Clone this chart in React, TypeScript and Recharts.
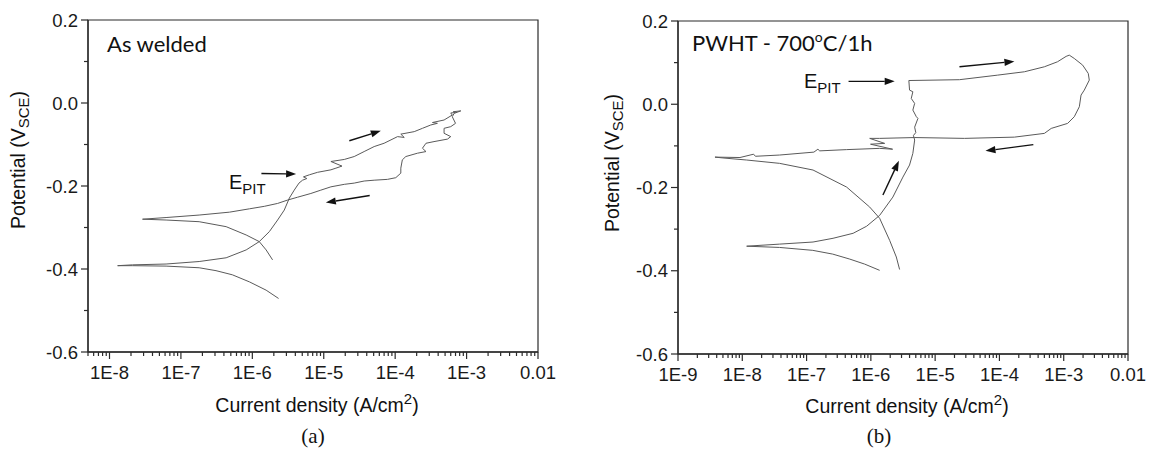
import React from 'react'
import { LineChart, Line, XAxis, YAxis, ReferenceLine, ReferenceArea } from 'recharts'

type Pt = [number, number] // [current density A/cm2, potential V]

// (a) As welded - forward scan (cathodic -> anodic)
const awForward: Pt[] = [
  [2.33e-6, -0.471], [1.56e-6, -0.451], [9.1e-7, -0.431], [5.25e-7, -0.414], [3.1e-7, -0.404],
  [1.8e-7, -0.397], [6.2e-8, -0.393], [2.1e-8, -0.392], [1.3e-8, -0.392], [2.1e-8, -0.39],
  [6.2e-8, -0.388], [1.8e-7, -0.382], [4.3e-7, -0.373], [8.2e-7, -0.354], [1.25e-6, -0.334],
  [1.73e-6, -0.31], [2.26e-6, -0.282], [2.8e-6, -0.258], [3.3e-6, -0.229], [3.86e-6, -0.21],
  [4.5e-6, -0.193], [5.05e-6, -0.186], [5.8e-6, -0.182], [5.2e-6, -0.178], [6.3e-6, -0.173],
  [8.2e-6, -0.167], [1.26e-5, -0.161], [1.48e-5, -0.157], [1.8e-5, -0.152], [1.26e-5, -0.141],
  [1.94e-5, -0.136], [2.67e-5, -0.129], [3.68e-5, -0.117], [5.08e-5, -0.105], [7.0e-5, -0.097],
  [1.08e-4, -0.081], [1.34e-4, -0.083], [1.2e-4, -0.075], [1.85e-4, -0.069], [2.41e-4, -0.061],
  [3.15e-4, -0.053], [3.9e-4, -0.049], [3.33e-4, -0.047], [4.84e-4, -0.041], [6.3e-4, -0.029],
  [6.0e-4, -0.024], [7.0e-4, -0.023], [6.5e-4, -0.021], [8.3e-4, -0.019],
]

// (a) As welded - reverse scan
const awReverse: Pt[] = [
  [8.3e-4, -0.019], [6.7e-4, -0.025], [6.3e-4, -0.033], [7.0e-4, -0.049], [6.0e-4, -0.057],
  [4.84e-4, -0.061], [4.84e-4, -0.073], [6.0e-4, -0.081], [5.4e-4, -0.087], [3.5e-4, -0.093],
  [2.7e-4, -0.097], [2.41e-4, -0.109], [2.7e-4, -0.117], [2.05e-4, -0.121], [1.41e-4, -0.129],
  [1.26e-4, -0.137], [1.2e-4, -0.157], [1.2e-4, -0.169], [1.02e-4, -0.18], [7.8e-5, -0.184],
  [5.08e-5, -0.186], [3.68e-5, -0.188], [2.67e-5, -0.193], [1.94e-5, -0.196], [1.26e-5, -0.202],
  [9.1e-6, -0.21], [6.6e-6, -0.218], [4.3e-6, -0.227], [3.1e-6, -0.234], [2.26e-6, -0.242],
  [1.47e-6, -0.249], [9.1e-7, -0.255], [4.8e-7, -0.263], [1.8e-7, -0.27], [6.2e-8, -0.276],
  [2.9e-8, -0.28], [6.2e-8, -0.282], [1.8e-7, -0.286], [4.3e-7, -0.298], [8.2e-7, -0.318],
  [1.25e-6, -0.334], [1.56e-6, -0.354], [1.92e-6, -0.378],
]

// (b) PWHT 700C/1h - forward scan
const pwForward: Pt[] = [
  [1.37e-6, -0.399], [8.0e-7, -0.384], [4.7e-7, -0.372], [2.55e-7, -0.36], [1.25e-7, -0.351],
  [3.8e-8, -0.344], [1.17e-8, -0.341], [3.8e-8, -0.336], [1.26e-7, -0.331], [2.58e-7, -0.322],
  [5.3e-7, -0.31], [8.6e-7, -0.293], [1.37e-6, -0.267], [2.2e-6, -0.223], [3.15e-6, -0.175],
  [4.0e-6, -0.146], [4.5e-6, -0.118], [4.8e-6, -0.086], [4.6e-6, -0.075], [5.0e-6, -0.068],
  [4.8e-6, -0.055], [5.4e-6, -0.034], [5.1e-6, -0.03], [4.5e-6, -0.014], [4.8e-6, 0.002],
  [4.25e-6, 0.014], [4.5e-6, 0.03], [4.0e-6, 0.034], [3.9e-6, 0.057], [2.39e-5, 0.059],
  [9.4e-5, 0.07], [2.44e-4, 0.078], [5.0e-4, 0.09], [8.0e-4, 0.102], [1.09e-3, 0.115],
  [1.22e-3, 0.118], [1.46e-3, 0.11], [1.97e-3, 0.094], [2.41e-3, 0.074], [2.5e-3, 0.058],
]

// (b) PWHT 700C/1h - reverse scan
const pwReverse: Pt[] = [
  [2.5e-3, 0.058], [2.09e-3, 0.034], [1.86e-3, 0.022], [1.75e-3, -0.006], [1.46e-3, -0.03],
  [1.15e-3, -0.046], [6.4e-4, -0.058], [5.0e-4, -0.07], [1.71e-4, -0.079], [2.86e-5, -0.082],
  [4.8e-6, -0.08], [1.37e-6, -0.082], [9.6e-7, -0.082], [1.64e-6, -0.094], [9.9e-7, -0.096],
  [2.18e-6, -0.108], [1.37e-6, -0.106], [4.2e-7, -0.109], [1.6e-7, -0.112], [1.5e-7, -0.108],
  [1.3e-7, -0.115], [3.8e-8, -0.122], [1.6e-8, -0.125], [1.5e-8, -0.12], [9.2e-9, -0.128],
  [3.76e-9, -0.127], [5e-9, -0.129], [1.17e-8, -0.134], [3.8e-8, -0.142], [1.26e-7, -0.158],
  [4.2e-7, -0.199], [9.6e-7, -0.247], [1.37e-6, -0.274], [1.96e-6, -0.327], [2.49e-6, -0.367],
  [2.8e-6, -0.397],
]

// axes
const awDecades = [1e-8, 1e-7, 1e-6, 1e-5, 1e-4, 1e-3, 1e-2]
const awDecadeLabels = ['1E-8', '1E-7', '1E-6', '1E-5', '1E-4', '1E-3', '0.01']
const pwDecades = [1e-9, 1e-8, 1e-7, 1e-6, 1e-5, 1e-4, 1e-3, 1e-2]
const pwDecadeLabels = ['1E-9', '1E-8', '1E-7', '1E-6', '1E-5', '1E-4', '1E-3', '0.01']
const yMajor = [-0.6, -0.4, -0.2, 0, 0.2]
const yMajorLabels = ['-0.6', '-0.4', '-0.2', '0.0', '0.2']
const yMinor = [-0.5, -0.3, -0.1, 0.1]

// annotation arrows: [from, to]
const awArrows: [Pt, Pt][] = [
  [[2.28e-5, -0.091], [6.3e-5, -0.067]],
  [[4.4e-5, -0.223], [1.07e-5, -0.24]],
  [[1.34e-6, -0.17], [4.1e-6, -0.171]],
]
const pwArrows: [Pt, Pt][] = [
  [[2.39e-5, 0.09], [1.71e-4, 0.103]],
  [[3.37e-4, -0.097], [6.07e-5, -0.112]],
  [[4.5e-7, 0.055], [2.35e-6, 0.055]],
  [[1.54e-6, -0.218], [2.73e-6, -0.136]],
]

const AXIS = '#2b2b2b'
const CURVE = '#5a5a5a'
const TICK_FONT = '"Liberation Sans", Arial, sans-serif'

const minorTicks = (decades: number[], lo: number) => {
  const out: number[] = []
  const bases = [decades[0] / 10, ...decades.slice(0, -1)]
  bases.forEach(d => {
    for (let m = 2; m <= 9; m++) {
      const v = m * d
      if (v >= lo * 0.999) out.push(v)
    }
  })
  return out
}

const ArrowShape = (p: any) => {
  const { x1, y1, x2, y2 } = p
  const ang = Math.atan2(y2 - y1, x2 - x1)
  const L = 10
  const W = 3.6
  const bx = x2 - L * Math.cos(ang)
  const by = y2 - L * Math.sin(ang)
  const px = -Math.sin(ang) * W
  const py = Math.cos(ang) * W
  return (
    <g>
      <line x1={x1} y1={y1} x2={bx} y2={by} stroke="#111" strokeWidth={1.4} />
      <polygon points={`${x2},${y2} ${bx + px},${by + py} ${bx - px},${by - py}`} fill="#111" />
    </g>
  )
}

interface PanelProps {
  left: number
  margin: { top: number; right: number; bottom: number; left: number }
  domain: [number, number]
  decades: number[]
  decadeLabels: string[]
  forward: Pt[]
  reverse: Pt[]
  arrows: [Pt, Pt][]
}

const Panel: React.FC<PanelProps> = ({ left, margin, domain, decades, decadeLabels, forward, reverse, arrows }) => {
  const xTicks = [...decades, ...minorTicks(decades, domain[0])].sort((a, b) => a - b)
  const yTicks = [...yMajor, ...yMinor].sort((a, b) => a - b)

  const renderXTick = (p: any) => {
    const v = p.payload.value
    const idx = decades.findIndex(d => Math.abs(d - v) / d < 1e-6)
    const major = idx >= 0
    return (
      <g>
        <line x1={p.x} x2={p.x} y1={p.y} y2={p.y + (major ? 7 : 4)} stroke={AXIS} strokeWidth={1.2} />
        {major && (
          <text x={p.x} y={p.y + 27} textAnchor="middle" fontSize={18.5} fontFamily={TICK_FONT} fill="#1a1a1a">
            {decadeLabels[idx]}
          </text>
        )}
      </g>
    )
  }

  const renderYTick = (p: any) => {
    const v = p.payload.value
    const idx = yMajor.findIndex(d => Math.abs(d - v) < 1e-6)
    const major = idx >= 0
    return (
      <g>
        <line x1={p.x - (major ? 7 : 4)} x2={p.x} y1={p.y} y2={p.y} stroke={AXIS} strokeWidth={1.2} />
        {major && (
          <text x={p.x - 10} y={p.y + 6.5} textAnchor="end" fontSize={18.5} fontFamily={TICK_FONT} fill="#1a1a1a">
            {yMajorLabels[idx]}
          </text>
        )}
      </g>
    )
  }

  return (
    <div style={{ position: 'absolute', left, top: 0 }}>
      <LineChart width={560} height={456} margin={margin}>
        <XAxis
          type="number"
          dataKey="i"
          scale="log"
          domain={domain}
          allowDataOverflow
          ticks={xTicks}
          interval={0}
          tickSize={0}
          tickMargin={0}
          tickLine={false}
          tick={renderXTick}
          axisLine={{ stroke: AXIS, strokeWidth: 1.3 }}
          height={40}
        />
        <YAxis
          type="number"
          dataKey="e"
          domain={[-0.6, 0.2]}
          allowDataOverflow
          ticks={yTicks}
          interval={0}
          tickSize={0}
          tickMargin={0}
          tickLine={false}
          tick={renderYTick}
          axisLine={{ stroke: AXIS, strokeWidth: 1.3 }}
          width={60}
        />
        <ReferenceArea
          x1={domain[0]}
          x2={domain[1]}
          y1={-0.6}
          y2={0.2}
          fill="none"
          fillOpacity={0}
          stroke={AXIS}
          strokeWidth={1.2}
          ifOverflow="visible"
        />
        <Line
          data={forward.map(([i, e]) => ({ i, e }))}
          dataKey="e"
          type="linear"
          stroke={CURVE}
          strokeWidth={1}
          dot={false}
          isAnimationActive={false}
        />
        <Line
          data={reverse.map(([i, e]) => ({ i, e }))}
          dataKey="e"
          type="linear"
          stroke={CURVE}
          strokeWidth={1}
          dot={false}
          isAnimationActive={false}
        />
        {arrows.map(([a, b], k) => (
          <ReferenceLine
            key={k}
            segment={[{ x: a[0], y: a[1] }, { x: b[0], y: b[1] }]}
            ifOverflow="visible"
            shape={ArrowShape}
          />
        ))}
      </LineChart>
    </div>
  )
}

const LABEL_FONT = '"Liberation Sans", Arial, sans-serif'
const TITLE_FONT = 'Lato, "Open Sans", sans-serif'

export default function App() {
  return (
    <div style={{ position: 'absolute', left: 0, top: 0, width: 1153, height: 456, background: '#fff', overflow: 'hidden' }}>
      <Panel
        left={0}
        margin={{ top: 20, right: 22, bottom: 64, left: 28 }}
        domain={[5e-9, 1e-2]}
        decades={awDecades}
        decadeLabels={awDecadeLabels}
        forward={awForward}
        reverse={awReverse}
        arrows={awArrows}
      />
      <Panel
        left={590}
        margin={{ top: 21, right: 22, bottom: 62, left: 28 }}
        domain={[1e-9, 1e-2]}
        decades={pwDecades}
        decadeLabels={pwDecadeLabels}
        forward={pwForward}
        reverse={pwReverse}
        arrows={pwArrows}
      />
      <svg width={1153} height={456} style={{ position: 'absolute', left: 0, top: 0, pointerEvents: 'none' }}>
        {/* panel (a) texts */}
        <text x={107} y={52} fontSize={22} fontFamily={TITLE_FONT} fill="#111">As welded</text>
        <text x={229} y={189} fontSize={20} fontFamily={LABEL_FONT} fill="#111">
          E<tspan fontSize={15} dy={5}>PIT</tspan>
        </text>
        <text x={25} y={160} transform="rotate(-90 25 160)" textAnchor="middle" fontSize={19.5} fontFamily={LABEL_FONT} fill="#111">
          Potential (V<tspan fontSize={15} dy={4}>SCE</tspan><tspan dy={-4}>)</tspan>
        </text>
        <text x={317} y={412} textAnchor="middle" fontSize={19.5} fontFamily={LABEL_FONT} fill="#111">
          Current density (A/cm<tspan fontSize={15} dy={-8}>2</tspan><tspan dy={8}>)</tspan>
        </text>
        <text x={313} y={443} textAnchor="middle" fontSize={21} fontFamily='"Liberation Serif", serif' fill="#111">(a)</text>

        {/* panel (b) texts */}
        <text x={692} y={51} fontSize={22} fontFamily={TITLE_FONT} fill="#111">
          PWHT - 700<tspan fontSize={14} dy={-9}>o</tspan><tspan dy={9}>C/1h</tspan>
        </text>
        <text x={804} y={88} fontSize={20} fontFamily={LABEL_FONT} fill="#111">
          E<tspan fontSize={15} dy={5}>PIT</tspan>
        </text>
        <text x={619} y={163} transform="rotate(-90 619 163)" textAnchor="middle" fontSize={19.5} fontFamily={LABEL_FONT} fill="#111">
          Potential (V<tspan fontSize={15} dy={4}>SCE</tspan><tspan dy={-4}>)</tspan>
        </text>
        <text x={907} y={413} textAnchor="middle" fontSize={19.5} fontFamily={LABEL_FONT} fill="#111">
          Current density (A/cm<tspan fontSize={15} dy={-8}>2</tspan><tspan dy={8}>)</tspan>
        </text>
        <text x={879} y={443} textAnchor="middle" fontSize={21} fontFamily='"Liberation Serif", serif' fill="#111">(b)</text>
      </svg>
    </div>
  )
}
